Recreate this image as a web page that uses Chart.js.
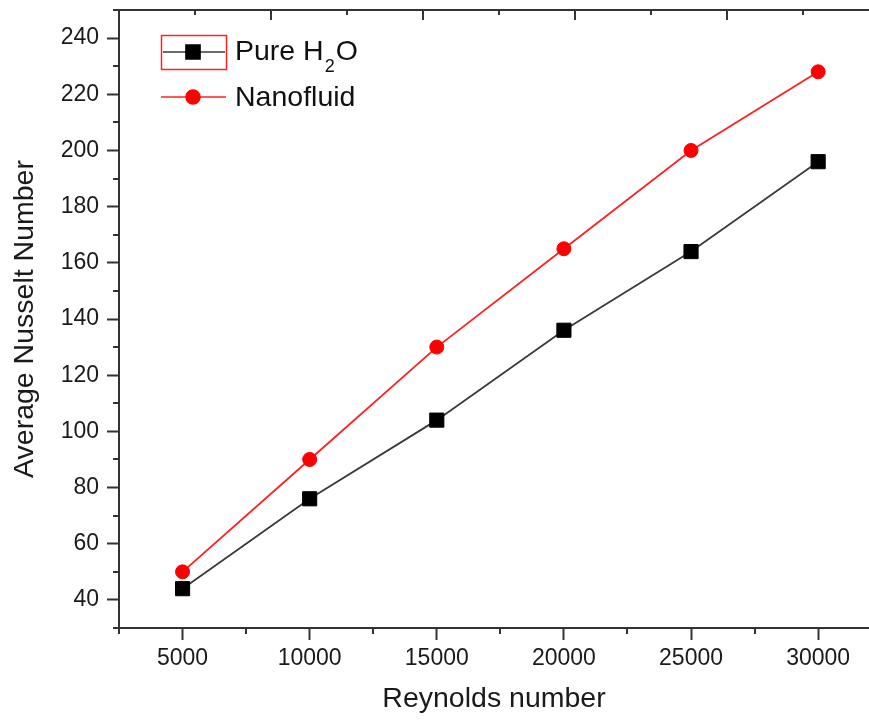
<!DOCTYPE html>
<html>
<head>
<meta charset="utf-8">
<script src="https://cdn.jsdelivr.net/npm/chart.js@4.4.1/dist/chart.umd.min.js"></script>
<style>
html,body{margin:0;padding:0;background:#fff;overflow:hidden;}
canvas{display:block;}
</style>
</head>
<body>
<canvas id="c" width="869" height="720"></canvas>
<script>
// ---- data ----
const reynolds = [5000, 10000, 15000, 20000, 25000, 30000];
const pureH2O = [44, 76, 104, 136, 164, 196];
const nanofluid = [50, 90, 130, 165, 200, 228];
const seriesNames = ['Pure H', '2', 'O'];      // "Pure H2O" with subscript
const seriesName2 = 'Nanofluid';
const xTicks = [5000, 10000, 15000, 20000, 25000, 30000];
const xMinorTicks = [2500, 7500, 12500, 17500, 22500, 27500];
const yTicks = [40, 60, 80, 100, 120, 140, 160, 180, 200, 220, 240];
const yMinorTicks = [30, 50, 70, 90, 110, 130, 150, 170, 190, 210, 230, 250];
const topMajorTicks = [0, 1, 2, 3, 4];
const topMinorTicks = [0.5, 1.5, 2.5, 3.5, 4.5];
const xTitle = 'Reynolds number';
const yTitle = 'Average Nusselt Number';

const FONT = '"Liberation Sans", Arial, sans-serif';
const AXIS = '#333333';

const zeroPad = s => { s.paddingLeft = 0; s.paddingRight = 0; s.paddingTop = 0; s.paddingBottom = 0; };

const extrasPlugin = {
  id: 'extras',
  afterDraw(chart) {
    const ctx = chart.ctx;
    const ca = chart.chartArea;
    const xs = chart.scales.x, ys = chart.scales.y, xt = chart.scales.xTop;
    ctx.save();
    ctx.strokeStyle = AXIS;
    ctx.lineWidth = 2;
    ctx.beginPath();
    xMinorTicks.forEach(v => {
      const p = Math.round(xs.getPixelForValue(v));
      ctx.moveTo(p, ca.bottom); ctx.lineTo(p, ca.bottom + 6);
    });
    yMinorTicks.forEach(v => {
      const p = Math.round(ys.getPixelForValue(v));
      ctx.moveTo(ca.left, p); ctx.lineTo(ca.left - 6, p);
    });
    ctx.moveTo(ca.left - 1, ca.top); ctx.lineTo(ca.right, ca.top);
    topMajorTicks.forEach(v => {
      const p = Math.round(xt.getPixelForValue(v));
      ctx.moveTo(p, ca.top); ctx.lineTo(p, ca.top + 10);
    });
    topMinorTicks.forEach(v => {
      const p = Math.round(xt.getPixelForValue(v));
      ctx.moveTo(p, ca.top); ctx.lineTo(p, ca.top + 5);
    });
    ctx.stroke();

    // legend
    const d0 = chart.data.datasets[0], d1 = chart.data.datasets[1];
    ctx.strokeStyle = '#ff2020';
    ctx.lineWidth = 1.5;
    ctx.strokeRect(161.5, 35.5, 65, 34);
    ctx.strokeStyle = d0.borderColor; ctx.lineWidth = 1.5;
    ctx.beginPath(); ctx.moveTo(163, 52); ctx.lineTo(225, 52); ctx.stroke();
    ctx.fillStyle = d0.pointBackgroundColor; ctx.strokeStyle = d0.pointBorderColor;
    Chart.helpers.drawPoint(ctx, {pointStyle: d0.pointStyle, radius: d0.pointRadius, borderWidth: 1}, 193, 52);
    ctx.strokeStyle = d1.borderColor; ctx.lineWidth = 1.5;
    ctx.beginPath(); ctx.moveTo(161, 97); ctx.lineTo(226, 97); ctx.stroke();
    ctx.fillStyle = d1.pointBackgroundColor; ctx.strokeStyle = d1.pointBorderColor;
    Chart.helpers.drawPoint(ctx, {pointStyle: d1.pointStyle, radius: d1.pointRadius, borderWidth: 1}, 193, 97);
    ctx.fillStyle = '#111';
    ctx.textBaseline = 'alphabetic';
    ctx.textAlign = 'left';
    ctx.font = '28.5px ' + FONT;
    let x = 235;
    ctx.fillText(seriesNames[0], x, 60);
    x += ctx.measureText(seriesNames[0]).width + 1;
    ctx.font = '18px ' + FONT;
    ctx.fillText(seriesNames[1], x, 72);
    x += ctx.measureText(seriesNames[1]).width + 1;
    ctx.font = '28.5px ' + FONT;
    ctx.fillText(seriesNames[2], x, 60);
    ctx.fillText(seriesName2, 235, 106);
    ctx.restore();
  }
};

new Chart(document.getElementById('c'), {
  type: 'line',
  data: {
    datasets: [
      {
        label: 'Pure H2O',
        data: reynolds.map((r, i) => ({x: r, y: pureH2O[i]})),
        borderColor: '#3a3a3a',
        borderWidth: 1.8,
        pointStyle: 'rect',
        pointRadius: 10,
        pointBackgroundColor: '#000000',
        pointBorderColor: '#000000',
        pointBorderWidth: 1,
        tension: 0,
        xAxisID: 'x', yAxisID: 'y'
      },
      {
        label: 'Nanofluid',
        data: reynolds.map((r, i) => ({x: r, y: nanofluid[i]})),
        borderColor: '#ff2020',
        borderWidth: 1.8,
        pointStyle: 'circle',
        pointRadius: 7,
        pointBackgroundColor: '#ff0000',
        pointBorderColor: '#ff0000',
        pointBorderWidth: 1,
        tension: 0,
        xAxisID: 'x', yAxisID: 'y'
      }
    ]
  },
  options: {
    responsive: false,
    animation: false,
    layout: {autoPadding: false, padding: {top: 10, right: 0, left: 0, bottom: 0}},
    plugins: {legend: {display: false}, tooltip: {enabled: false}},
    scales: {
      x: {
        type: 'linear', position: 'bottom', min: 2500, max: 32000,
        afterBuildTicks: s => { s.ticks = xTicks.map(v => ({value: v})); },
        afterFit: s => { s.height = 92; zeroPad(s); },
        grid: {drawOnChartArea: false, drawTicks: true, tickLength: 12, tickWidth: 2, tickColor: AXIS},
        border: {display: true, width: 2, color: AXIS},
        ticks: {font: {family: FONT, size: 23}, color: '#1a1a1a', padding: 5, maxRotation: 0, autoSkip: false,
                callback: v => String(v)},
        title: {display: true, text: xTitle, font: {family: FONT, size: 28.5}, color: '#1a1a1a', padding: {top: 0, bottom: 4}}
      },
      xTop: {
        type: 'linear', position: 'top', display: false, min: 0, max: 750 / 152,
        ticks: {display: false},
        grid: {display: false, drawTicks: false},
        border: {display: false},
        afterFit: s => { s.height = 0; zeroPad(s); }
      },
      y: {
        type: 'linear', position: 'left', min: 30, max: 250,
        afterBuildTicks: s => { s.ticks = yTicks.map(v => ({value: v})); },
        afterFit: s => { s.width = 119; zeroPad(s); },
        grid: {drawOnChartArea: false, drawTicks: true, tickLength: 12, tickWidth: 2, tickColor: AXIS},
        border: {display: true, width: 2, color: AXIS},
        ticks: {font: {family: FONT, size: 23}, color: '#1a1a1a', padding: 8, autoSkip: false,
                callback: v => String(v)},
        title: {display: true, text: yTitle, font: {family: FONT, size: 28.5}, color: '#1a1a1a', padding: {top: 8, bottom: 0}}
      }
    }
  },
  plugins: [extrasPlugin]
});
</script>
</body>
</html>
